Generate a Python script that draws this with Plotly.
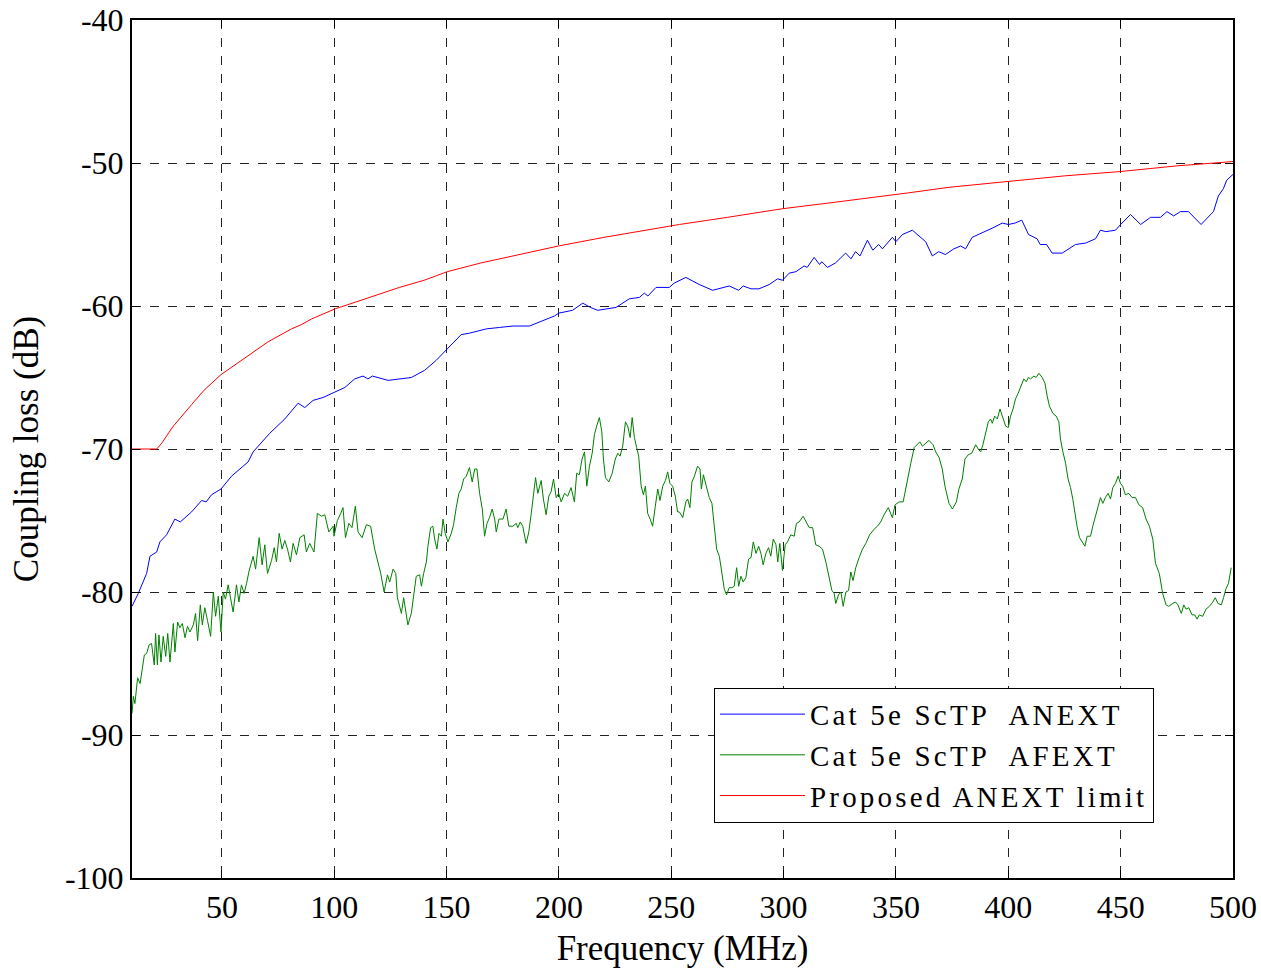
import plotly.graph_objects as go

# ---------------- data ----------------
red_freq = [10, 21, 23.2, 28.4, 36.5, 42, 49.6, 55, 60.2, 70.6, 81, 85.4, 90, 100.4, 110, 119.5,
            129, 140, 150.3, 165, 184.7, 199.9, 220, 241.7, 253.6, 275, 299.4, 320, 335.8,
            355, 373.6, 400, 425, 449.7, 475, 500]
red_db = [-70, -70, -69.6, -68.4, -66.9, -65.9, -64.8, -64.2, -63.6, -62.5, -61.6, -61.3, -60.9,
          -60.2, -59.7, -59.2, -58.7, -58.2, -57.6, -57.0, -56.3, -55.8, -55.2, -54.6, -54.3,
          -53.8, -53.2, -52.8, -52.5, -52.1, -51.7, -51.3, -50.9, -50.6, -50.2, -49.9]

blue_freq = [10, 12.8, 16.5, 18, 21, 22.4, 25.4, 29.1, 31.5, 36.5, 41, 43, 45.4, 49.6, 54.3, 61.7,
             63.9, 71.3, 78, 80.2, 83.9, 86.9, 90.6, 95, 100.4, 104.7, 109.1, 112.8, 115, 117,
             124, 129, 134.3, 140.2, 145.4, 150.3, 156.5, 160.2, 167.7, 173.6, 179.5, 186.9,
             192.8, 198, 199.9, 206.1, 210.6, 214, 217.3, 225.4, 231.3, 235.8, 238, 239.6, 243.2,
             249.1, 251.3, 256.5, 262.5, 268.4, 275.8, 280, 282, 285.5, 289, 293.6, 297.3, 299.5,
             302.5, 305.5, 309.1, 310.5, 313.6, 316, 317, 319.5, 323, 327.6, 330, 332, 334, 337.3,
             339.7, 342.3, 344, 348.4, 350, 352.9, 357.3, 363.2, 366.2, 369, 372, 375.8, 378.8,
             381, 383.9, 388.4, 393.6, 397.3, 400, 403, 406, 409, 412.8, 414.2, 417, 419.5, 424,
             429.9, 434.4, 438.8, 441, 443.4, 447.7, 450, 454.4, 458.9, 463.3, 467.7, 470.6,
             473.6, 476.6, 480.2, 485.8, 491.3, 493.5, 495.7, 497.2, 500]
blue_db = [-81.0, -80.1, -78.7, -77.5, -77.2, -76.5, -76.0, -74.9, -75.1, -74.4, -73.6, -73.7,
           -73.2, -72.8, -71.9, -70.9, -70.2, -68.9, -67.9, -67.5, -66.8, -67.1, -66.6, -66.4,
           -66.0, -65.7, -65.1, -64.9, -65.1, -64.9, -65.2, -65.1, -65.0, -64.5, -63.8, -63.0,
           -62.0, -61.9, -61.6, -61.5, -61.4, -61.4, -61.0, -60.7, -60.5, -60.3, -59.8, -60.1,
           -60.3, -60.1, -59.5, -59.4, -59.1, -59.3, -58.7, -58.7, -58.4, -58.0, -58.5, -58.9,
           -58.6, -58.9, -58.6, -58.8, -58.8, -58.5, -58.1, -58.2, -57.7, -57.6, -57.2, -57.3,
           -56.6, -57.1, -56.9, -57.3, -57.0, -56.3, -56.7, -56.2, -56.5, -55.4, -56.1, -55.7,
           -56.0, -55.2, -55.5, -55.0, -54.7, -55.5, -56.5, -56.2, -56.4, -56.0, -55.8, -56.0,
           -55.2, -54.9, -54.5, -54.2, -54.3, -54.2, -54.0, -55.0, -55.3, -55.7, -55.7, -56.3,
           -56.3, -55.7, -55.6, -55.3, -54.7, -54.8, -54.7, -54.3, -53.6, -54.3, -53.8, -53.8,
           -53.4, -53.7, -53.4, -53.4, -54.3, -53.4, -52.3, -51.8, -51.2, -50.8]

green_freq = [10.0, 10.6, 11.3, 12.5, 13.6, 14.6, 15.5, 16.5, 17.6, 18.7, 19.9, 20.5, 21.3, 22.0,
              22.9, 23.9, 25.0, 25.9, 26.9, 28.4, 29.1, 30.3, 31.3, 32.4, 33.6, 34.7, 35.8, 37.3,
              38.3, 39.2, 40.4, 41.3, 42.4, 43.6, 45.0, 46.2, 47.2, 48.4, 49.6, 50.6, 51.6, 52.8,
              54.0, 55.0, 56.5, 57.6, 58.7, 59.9, 61.0, 62.0, 63.9, 65.0, 66.6, 67.9, 69.1, 70.3,
              72.1, 73.3, 74.3, 75.5, 76.8, 78.0, 79.2, 80.5, 81.7, 83.2, 84.7, 86.6, 87.6, 89.1,
              91.0, 92.5, 94.3, 95.8, 97.6, 99.5, 99.9, 101.4, 102.9, 103.9, 105.0, 106.5, 107.9,
              109.4, 110.6, 112.4, 114.3, 116.2, 118.0, 119.5, 120.7, 122.2, 123.7, 124.7, 126.2,
              127.4, 128.1,
              129.1, 129.9, 130.9, 131.8, 132.8, 134.3, 135.1, 135.8, 136.5, 138.0, 138.8, 139.8,
              141.0, 141.7, 142.9, 143.9, 144.7, 145.7, 146.6, 147.7, 148.4, 149.4, 150.6, 152.1,
              153.1, 154.3, 155.5, 156.5, 157.6, 158.8, 160.2, 161.4, 162.5, 163.5, 164.7, 165.9,
              166.9, 168.0, 169.1, 170.3, 171.4, 172.1, 173.3, 175.1, 176.5, 177.7, 179.5, 181.0,
              181.7, 182.8, 183.9, 185.4, 186.6, 187.7, 188.7, 189.6, 190.6, 192.1, 193.1, 194.3,
              195.5, 196.5, 197.6, 198.8, 199.9, 201.0, 202.5, 203.9, 205.4, 206.9, 207.9, 209.1,
              210.3, 211.4, 212.4, 213.6, 214.8, 215.8, 216.8, 218.0, 219.1, 219.8, 220.7, 222.2,
              223.7, 225.1, 226.2, 227.2, 228.4, 229.6, 230.6, 231.7, 232.6, 233.6, 234.6, 235.5,
              236.6, 237.6, 238.5, 239.5, 240.6, 241.7, 242.9, 244.0, 245.0, 246.2, 247.4, 248.4,
              249.4, 250.6, 251.8, 252.8,
              253.6, 255.1, 256.5, 257.3, 258.3, 259.2, 260.3, 261.7, 262.8, 263.4, 264.3, 265.4,
              266.9, 268.1, 269.1, 270.2, 271.4, 272.6, 273.6, 274.6, 275.8, 277.0, 278.0, 279.1,
              280.0, 281.0, 282.0, 283.2, 284.4, 285.5, 286.5, 287.7, 288.9, 289.9, 290.9, 292.1,
              293.3, 294.3, 295.4, 296.6, 297.4, 298.3, 299.5, 300.7, 301.7, 303.2, 304.7, 305.7,
              306.9, 308.7, 309.9, 311.4, 312.9, 314.3, 315.8, 317.3, 318.8, 320.3, 321.5, 322.5,
              323.2, 324.4, 325.5, 326.5, 327.7, 328.9, 329.9, 330.9, 332.1, 333.6, 335.1, 336.6,
              338.3, 340.3, 341.8, 343.2, 344.7, 346.6, 348.4, 349.6, 351.4, 353.2, 354.3, 355.5,
              356.6, 358.1, 359.5, 360.6, 361.8, 363.2, 364.7, 366.5, 367.7, 369.2, 370.6, 371.8,
              372.9,
              373.6, 375.1, 376.9, 378.0, 379.5, 380.7, 382.2, 383.7, 385.5, 386.6, 387.7, 388.7,
              389.9, 391.1, 392.1, 392.9, 393.9, 395.1, 396.3, 397.6, 398.8, 400.0, 401.0, 402.1,
              403.2, 404.4, 405.5, 406.9, 408.0, 408.9, 409.9, 411.4, 412.4, 413.6, 415.1, 416.3,
              417.3, 418.3, 419.8, 421.3, 422.5, 423.2, 424.3, 425.5, 426.6, 427.7, 428.7, 429.6,
              430.6, 431.7, 432.9, 434.1, 435.1, 436.6, 437.6, 438.8, 440.0, 441.0, 442.1, 443.2,
              444.4, 445.5, 446.5, 447.7, 448.9, 449.9, 450.9, 452.1, 453.6, 455.1, 456.6, 458.1,
              459.8, 461.3, 462.8, 464.3, 465.5, 467.2, 468.7, 470.2, 471.4, 473.2, 474.4, 475.5,
              477.0, 478.1, 479.1, 480.3, 481.8, 483.0, 484.0, 485.0, 486.5, 488.0, 489.5, 491.0,
              492.1, 493.3, 494.8, 495.8, 496.8, 498.0, 499.2]
green_db = [-88.5, -87.3, -87.8, -86.0, -86.4, -85.3, -84.4, -84.3, -83.7, -83.6, -85.1, -82.9,
            -85.1, -83.0, -84.9, -83.1, -84.5, -82.9, -84.9, -82.2, -84.2, -82.1, -82.5, -82.2,
            -83.2, -82.4, -82.8, -82.3, -81.5, -83.4, -80.9, -82.3, -81.1, -82.0, -83.1, -80.0,
            -81.7, -80.3, -82.8, -80.0, -80.5, -79.5, -80.5, -81.4, -79.5, -80.7, -79.5, -80.1,
            -79.4, -78.6, -77.5, -78.4, -76.2, -78.1, -76.7, -78.7, -77.8, -76.9, -77.9, -75.9,
            -77.0, -76.4, -77.0, -77.9, -76.6, -77.4, -76.2, -76.0, -77.2, -76.6, -77.2, -74.5,
            -74.7, -74.6, -75.8, -75.4, -76.1, -75.0, -74.5, -74.1, -76.2, -75.2, -75.5, -74.0,
            -75.8, -76.2, -75.3, -75.4, -77.0, -78.0, -78.7, -80.0, -78.8, -79.3, -78.4, -78.7,
            -80.4,
            -81.0, -81.5, -80.4, -81.3, -82.3, -81.5, -80.5, -79.9, -78.9, -78.8, -79.6, -78.7,
            -77.9, -76.8, -75.5, -75.4, -76.3, -77.0, -75.9, -76.1, -74.9, -75.9, -76.5, -75.9,
            -75.3, -74.1, -73.1, -72.8, -72.1, -71.9, -71.3, -72.3, -71.4, -71.4, -73.1, -74.2,
            -76.1, -75.2, -74.8, -74.2, -74.9, -75.8, -74.9, -74.9, -74.2, -75.4, -75.4, -75.2,
            -75.5, -75.1, -75.4, -76.6, -75.8, -74.5, -73.3, -72.0, -73.1, -72.2, -73.5, -74.6,
            -73.3, -73.0, -72.1, -73.4, -73.1, -73.7, -73.1, -73.3, -72.7, -73.7, -71.7, -71.8,
            -70.7, -70.2, -72.6, -71.2, -70.3, -69.0, -68.4, -67.8, -68.8, -70.7, -72.0, -72.3,
            -71.7, -70.7, -70.3, -70.5, -69.8, -68.1, -68.4, -69.2, -67.8, -69.2, -69.9, -70.5,
            -72.6, -73.2, -72.6, -74.5, -74.9, -75.4, -74.0, -72.8, -73.6, -72.6, -72.2, -71.6,
            -72.4, -72.6, -73.3, -74.4,
            -74.4, -74.8, -73.7, -73.5, -74.1, -72.3, -71.9, -71.2, -71.4, -72.8, -71.8, -72.4,
            -73.4, -73.8, -75.6, -77.0, -77.5, -78.9, -79.8, -80.2, -79.7, -79.7, -79.6, -78.3,
            -79.6, -78.9, -79.3, -79.0, -77.7, -77.6, -76.5, -77.3, -76.8, -77.3, -78.1, -77.3,
            -76.9, -77.5, -76.3, -76.7, -77.9, -76.6, -78.5, -76.7, -76.5, -76.0, -76.1, -75.2,
            -75.1, -74.7, -75.1, -75.5, -75.5, -76.7, -76.8, -77.0, -77.9, -78.9, -79.9, -80.1,
            -80.8, -80.2, -80.0, -81.0, -80.0, -79.9, -78.6, -79.2, -78.3, -77.6, -77.0, -76.6,
            -76.0, -75.6, -75.4, -75.1, -74.6, -74.1, -74.8, -73.9, -73.7, -73.7, -72.8, -71.7,
            -71.0, -69.9, -69.7, -69.5, -69.8, -69.6, -69.4, -69.7, -70.2, -70.6, -71.4, -72.6,
            -73.4,
            -73.8, -74.2, -73.7, -72.8, -72.1, -70.7, -70.4, -70.3, -69.7, -70.0, -70.2, -69.7,
            -68.9, -68.1, -67.9, -68.2, -67.7, -67.9, -67.2, -67.8, -68.4, -68.5, -67.7, -67.2,
            -66.5, -66.1, -65.6, -65.1, -65.3, -65.0, -65.1, -64.9, -65.0, -64.7, -65.0, -65.4,
            -66.3, -67.0, -67.5, -67.7, -68.1, -69.3, -70.2, -71.0, -72.1, -72.7, -73.5, -74.5,
            -75.4, -76.2, -76.5, -76.8, -76.1, -76.1, -75.4, -74.6, -74.0, -73.4, -73.8, -73.4,
            -73.1, -73.5, -72.7, -72.4, -71.9, -72.4, -72.6, -73.2, -73.1, -73.4, -73.4, -73.9,
            -74.1, -74.9, -75.4, -76.3, -78.0, -78.7, -80.1, -80.9, -81.0, -80.8, -80.7, -80.9,
            -81.5, -80.9, -81.2, -81.1, -81.6, -81.6, -81.9, -81.6, -81.7, -81.2, -81.0, -80.7,
            -80.4, -80.8, -80.9, -80.4, -79.8, -79.4, -78.3]

series_names = ["Cat 5e ScTP  ANEXT", "Cat 5e ScTP  AFEXT", "Proposed ANEXT limit"]
x_ticks = [50, 100, 150, 200, 250, 300, 350, 400, 450, 500]
y_ticks = [-100, -90, -80, -70, -60, -50, -40]

FONT = "Liberation Serif, Times New Roman, serif"


def spaced(name):
    return '<span style="letter-spacing:3.2px">' + name + '</span>'


fig = go.Figure()
fig.add_trace(go.Scatter(x=blue_freq, y=blue_db, mode="lines", name=spaced(series_names[0]),
                         line=dict(color="#0000ff", width=1)))
fig.add_trace(go.Scatter(x=green_freq, y=green_db, mode="lines", name=spaced(series_names[1]),
                         line=dict(color="#008000", width=1)))
fig.add_trace(go.Scatter(x=red_freq, y=red_db, mode="lines", name=spaced(series_names[2]),
                         line=dict(color="#ff0000", width=1)))

axis_common = dict(
    showline=True, linecolor="black", linewidth=2, mirror="ticks",
    ticks="inside", ticklen=8, tickcolor="black", tickwidth=1,
    showgrid=True, gridcolor="#222222", gridwidth=1, griddash="dash",
    zeroline=False, automargin=False,
    tickfont=dict(family=FONT, size=32, color="black"),
)

fig.update_layout(
    width=1261, height=968,
    margin=dict(l=132, r=28, t=20, b=90),
    paper_bgcolor="white", plot_bgcolor="white",
    font=dict(family=FONT, color="black"),
    showlegend=True,
    legend=dict(
        x=0.5286, y=0.2217, xanchor="left", yanchor="top",
        bgcolor="white", bordercolor="black", borderwidth=1,
        font=dict(family=FONT, size=29, color="black"),
        itemwidth=85, tracegroupgap=0,
    ),
)
fig.update_xaxes(range=[10, 500], tickvals=x_ticks, ticktext=[str(v) for v in x_ticks],
                 title=dict(text="Frequency (MHz)", font=dict(family=FONT, size=35), standoff=12),
                 **axis_common)
fig.update_yaxes(range=[-100, -40], tickvals=y_ticks, ticktext=[str(v) for v in y_ticks],
                 title=dict(text="Coupling loss (dB)", font=dict(family=FONT, size=35), standoff=16),
                 **axis_common)

fig.write_html("out.html")
